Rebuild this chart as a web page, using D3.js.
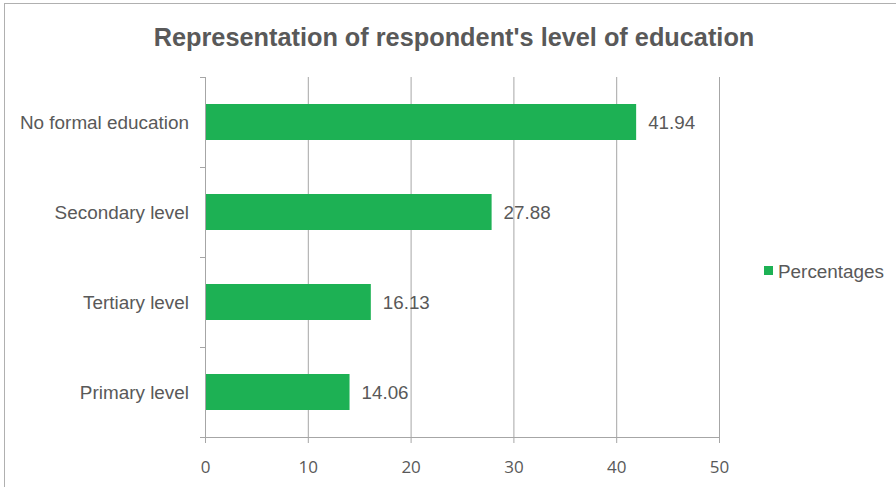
<!DOCTYPE html>
<html><head><meta charset="utf-8">
<script src="https://cdn.jsdelivr.net/npm/d3@7"></script>
<style>body{margin:0;background:#fff}svg{display:block}</style>
</head><body>
<svg id="c" width="896" height="487"></svg>
<script>
const categories = ["No formal education", "Secondary level", "Tertiary level", "Primary level"];
const values = [41.94, 27.88, 16.13, 14.06];
const xTicks = [0, 10, 20, 30, 40, 50];
const title = "Representation of respondent's level of education";
const seriesName = "Percentages";

const svg = d3.select("#c");
const gray = "#595959", grid = "#a6a6a6", barColor = "#1db154";
const font = "Liberation Sans, Arial, sans-serif";

svg.append("rect").attr("x", 4.5).attr("y", 3.5).attr("width", 900).attr("height", 500)
  .attr("fill", "#fff").attr("stroke", "#b0b0b0");

svg.append("text").attr("x", 454).attr("y", 46).attr("text-anchor", "middle")
  .attr("font-family", font).attr("font-weight", "bold").attr("font-size", 25.3)
  .attr("fill", gray).text(title);

const x = d3.scaleLinear().domain([0, 50]).range([205, 719]);
const y = d3.scaleBand().domain(categories).range([77, 437]).paddingInner(0.6).paddingOuter(0.3);

// gridlines
svg.append("g").selectAll("line").data(xTicks.slice(1)).join("line")
  .attr("x1", d => x(d) + 0.5).attr("x2", d => x(d) + 0.5)
  .attr("y1", 77).attr("y2", 437).attr("stroke", grid);

// bars
svg.append("g").selectAll("rect").data(values).join("rect")
  .attr("x", x(0) + 1).attr("y", (d, i) => y(categories[i]))
  .attr("width", d => x(d) - x(0) - 1).attr("height", y.bandwidth())
  .attr("fill", barColor);

// value labels
svg.append("g").selectAll("text").data(values).join("text")
  .attr("x", d => x(d) + 12).attr("y", (d, i) => y(categories[i]) + y.bandwidth() / 2)
  .attr("dy", "0.35em").attr("font-family", font).attr("font-size", 18.8)
  .attr("fill", gray).text(d => d.toFixed(2));

// y axis
const yAxisLine = d3.scaleLinear().domain([0, 4]).range([77, 437]);
const gy = svg.append("g");
gy.append("line").attr("x1", 205.5).attr("x2", 205.5).attr("y1", 77).attr("y2", 437).attr("stroke", grid);
gy.selectAll("line.t").data(d3.range(0, 5)).join("line").attr("class", "t")
  .attr("x1", 200).attr("x2", 205).attr("y1", d => Math.round(yAxisLine(d)) + 0.5)
  .attr("y2", d => Math.round(yAxisLine(d)) + 0.5).attr("stroke", grid);
gy.selectAll("text").data(categories).join("text")
  .attr("x", 189).attr("y", d => y(d) + y.bandwidth() / 2).attr("dy", "0.35em")
  .attr("text-anchor", "end").attr("font-family", font).attr("font-size", 18.9)
  .attr("fill", gray).text(d => d);

// x axis
const gx = svg.append("g").attr("transform", "translate(0,437)");
gx.call(d3.axisBottom(x).tickValues(xTicks).tickSize(6).tickPadding(18).tickFormat(d3.format("d")));
gx.select(".domain").remove();
gx.append("line").attr("x1", 205).attr("x2", 720).attr("y1", 0.5).attr("y2", 0.5).attr("stroke", grid);
gx.selectAll(".tick line").attr("stroke", grid).attr("y1", 0);
gx.selectAll(".tick text").attr("font-family", "Open Sans, sans-serif").attr("font-size", 17)
  .attr("fill", gray);

// legend
svg.append("rect").attr("x", 764).attr("y", 266).attr("width", 9).attr("height", 9).attr("fill", barColor);
svg.append("text").attr("x", 778).attr("y", 271).attr("dy", "0.35em").attr("font-family", font)
  .attr("font-size", 18.9).attr("fill", gray).text(seriesName);
</script>
</body></html>
